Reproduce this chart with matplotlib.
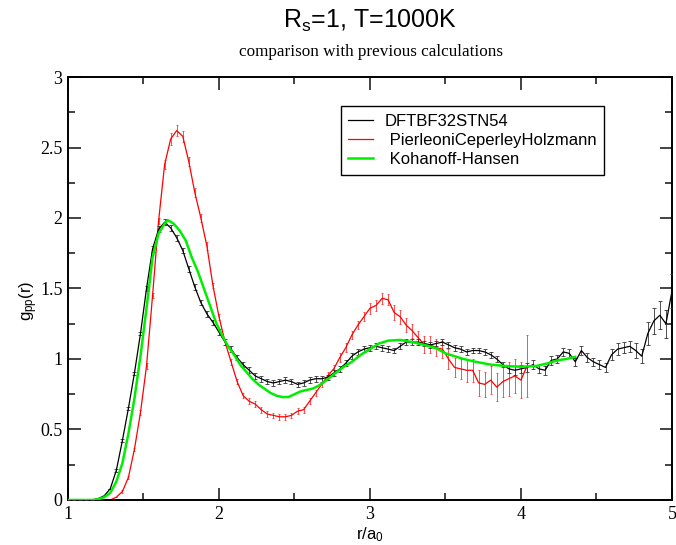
import matplotlib

matplotlib.use("Agg")

import matplotlib.pyplot as plt
from matplotlib.ticker import MultipleLocator


# DFTBF32STN54 (black, with error bars)
dft_r = [1.00, 1.04, 1.08, 1.12, 1.16, 1.20, 1.24, 1.28, 1.32, 1.36, 1.40, 1.44, 1.48, 1.52,
         1.56, 1.60, 1.64, 1.68, 1.72, 1.76, 1.80, 1.84, 1.88, 1.92, 1.96, 2.00, 2.04, 2.08,
         2.12, 2.16, 2.20, 2.24, 2.28, 2.32, 2.36, 2.40, 2.44, 2.48, 2.52, 2.56, 2.60, 2.64,
         2.68, 2.72, 2.76, 2.80, 2.84, 2.88, 2.92, 2.96, 3.00, 3.04, 3.08, 3.12, 3.16, 3.20,
         3.24, 3.28, 3.32, 3.36, 3.40, 3.44, 3.48, 3.52, 3.56, 3.60, 3.64, 3.68, 3.72, 3.76,
         3.80, 3.84, 3.88, 3.92, 3.96, 4.00, 4.04, 4.08, 4.12, 4.16, 4.20, 4.24, 4.28, 4.32,
         4.36, 4.40, 4.44, 4.48, 4.52, 4.56, 4.60, 4.64, 4.68, 4.72, 4.76, 4.80, 4.84, 4.88,
         4.92, 4.96, 5.00]
dft_g = [0.00, 0.00, 0.00, 0.00, 0.00, 0.01, 0.03, 0.08, 0.21, 0.42, 0.65, 0.90, 1.18, 1.50,
         1.78, 1.92, 1.97, 1.93, 1.86, 1.77, 1.64, 1.51, 1.40, 1.32, 1.26, 1.19, 1.12, 1.07,
         1.01, 0.96, 0.92, 0.88, 0.86, 0.84, 0.83, 0.84, 0.85, 0.84, 0.82, 0.83, 0.85, 0.86,
         0.86, 0.87, 0.90, 0.93, 0.97, 1.02, 1.05, 1.07, 1.08, 1.09, 1.08, 1.07, 1.06, 1.09,
         1.12, 1.12, 1.12, 1.11, 1.10, 1.11, 1.12, 1.10, 1.08, 1.07, 1.05, 1.06, 1.06, 1.05,
         1.03, 1.00, 0.96, 0.93, 0.92, 0.93, 0.94, 0.96, 0.93, 0.92, 0.99, 1.00, 1.05, 1.04,
         0.98, 1.06, 1.01, 0.98, 0.96, 0.94, 1.03, 1.07, 1.08, 1.09, 1.06, 1.02, 1.18, 1.27,
         1.31, 1.25, 1.48]
dft_err = [0.00, 0.00, 0.00, 0.00, 0.00, 0.00, 0.00, 0.00, 0.01, 0.01, 0.01, 0.01, 0.01, 0.02,
           0.02, 0.02, 0.02, 0.02, 0.02, 0.02, 0.02, 0.02, 0.02, 0.02, 0.02, 0.02, 0.02, 0.02,
           0.02, 0.02, 0.02, 0.02, 0.02, 0.02, 0.02, 0.02, 0.02, 0.02, 0.02, 0.02, 0.02, 0.02,
           0.02, 0.02, 0.02, 0.02, 0.02, 0.02, 0.02, 0.02, 0.02, 0.02, 0.02, 0.02, 0.02, 0.02,
           0.02, 0.02, 0.02, 0.02, 0.02, 0.02, 0.02, 0.02, 0.02, 0.02, 0.02, 0.02, 0.02, 0.02,
           0.02, 0.02, 0.02, 0.03, 0.03, 0.03, 0.03, 0.03, 0.03, 0.03, 0.03, 0.03, 0.03, 0.03,
           0.03, 0.03, 0.03, 0.03, 0.03, 0.03, 0.04, 0.04, 0.04, 0.04, 0.05, 0.05, 0.08, 0.09,
           0.10, 0.10, 0.12]

# PierleoniCeperleyHolzmann (red, with error bars)
pch_r = [1.00, 1.04, 1.08, 1.12, 1.16, 1.20, 1.24, 1.28, 1.32, 1.36, 1.40, 1.44, 1.48, 1.52,
         1.56, 1.60, 1.64, 1.68, 1.72, 1.76, 1.80, 1.84, 1.88, 1.92, 1.96, 2.00, 2.04, 2.08,
         2.12, 2.16, 2.20, 2.24, 2.28, 2.32, 2.36, 2.40, 2.44, 2.48, 2.52, 2.56, 2.60, 2.64,
         2.68, 2.72, 2.76, 2.80, 2.84, 2.88, 2.92, 2.96, 3.00, 3.04, 3.08, 3.12, 3.16, 3.20,
         3.24, 3.28, 3.32, 3.36, 3.40, 3.44, 3.48, 3.52, 3.56, 3.60, 3.64, 3.68, 3.72, 3.76,
         3.80, 3.84, 3.88, 3.92, 3.96, 4.00, 4.04]
pch_g = [0.00, 0.00, 0.00, 0.00, 0.00, 0.00, 0.00, 0.00, 0.02, 0.06, 0.16, 0.36, 0.62, 0.95,
         1.45, 1.98, 2.38, 2.56, 2.62, 2.58, 2.40, 2.18, 2.00, 1.80, 1.52, 1.30, 1.12, 0.98,
         0.84, 0.74, 0.70, 0.68, 0.64, 0.61, 0.60, 0.59, 0.59, 0.60, 0.63, 0.64, 0.70, 0.76,
         0.82, 0.88, 0.93, 1.01, 1.08, 1.17, 1.24, 1.30, 1.36, 1.38, 1.43, 1.42, 1.33, 1.30,
         1.24, 1.20, 1.15, 1.10, 1.10, 1.08, 1.07, 1.00, 0.94, 0.93, 0.92, 0.92, 0.83, 0.82,
         0.85, 0.80, 0.84, 0.86, 0.88, 0.85, 0.95]
pch_err = [0.00, 0.00, 0.00, 0.00, 0.00, 0.00, 0.00, 0.00, 0.00, 0.01, 0.01, 0.01, 0.02, 0.02,
           0.02, 0.02, 0.03, 0.04, 0.04, 0.04, 0.03, 0.03, 0.03, 0.03, 0.02, 0.02, 0.02, 0.02,
           0.02, 0.02, 0.02, 0.02, 0.02, 0.02, 0.02, 0.02, 0.02, 0.02, 0.02, 0.02, 0.02, 0.02,
           0.02, 0.03, 0.03, 0.03, 0.03, 0.03, 0.03, 0.03, 0.04, 0.04, 0.04, 0.04, 0.05, 0.05,
           0.05, 0.05, 0.05, 0.06, 0.06, 0.06, 0.06, 0.07, 0.07, 0.07, 0.08, 0.08, 0.09, 0.09,
           0.10, 0.10, 0.11, 0.12, 0.12, 0.13, 0.22]

# Kohanoff-Hansen (green, no error bars)
kh_r = [1.00, 1.08, 1.16, 1.20, 1.24, 1.28, 1.32, 1.36, 1.40, 1.44, 1.48, 1.52, 1.56, 1.60,
        1.64, 1.66, 1.70, 1.74, 1.78, 1.82, 1.86, 1.90, 1.94, 1.98, 2.02, 2.06, 2.10, 2.14,
        2.18, 2.22, 2.26, 2.30, 2.34, 2.38, 2.42, 2.46, 2.50, 2.54, 2.58, 2.62, 2.66, 2.70,
        2.76, 2.82, 2.88, 2.94, 3.00, 3.06, 3.12, 3.20, 3.28, 3.36, 3.44, 3.50, 3.56, 3.62,
        3.70, 3.80, 3.90, 4.00, 4.10, 4.18, 4.24, 4.30, 4.36]
kh_g = [0.00, 0.00, 0.00, 0.005, 0.02, 0.05, 0.13, 0.26, 0.47, 0.72, 1.02, 1.36, 1.72, 1.89,
        1.96, 1.985, 1.96, 1.91, 1.84, 1.72, 1.62, 1.50, 1.38, 1.26, 1.17, 1.09, 1.03, 0.96,
        0.91, 0.86, 0.82, 0.79, 0.76, 0.74, 0.73, 0.73, 0.75, 0.77, 0.78, 0.79, 0.81, 0.84,
        0.89, 0.94, 0.98, 1.03, 1.07, 1.11, 1.13, 1.135, 1.12, 1.10, 1.075, 1.04, 1.02, 1.00,
        0.98, 0.96, 0.95, 0.945, 0.95, 0.97, 0.99, 1.00, 1.015]

X_TICK_LABELS = ["1", "2", "3", "4", "5"]
Y_TICK_LABELS = ["0", "0.5", "1", "1.5", "2", "2.5", "3"]

SANS = ["Liberation Sans", "DejaVu Sans"]
SERIF = ["Liberation Serif", "DejaVu Serif"]

# upright sub/superscripts in the same sans face as the labels
plt.rcParams["mathtext.fontset"] = "custom"
plt.rcParams["mathtext.rm"] = "Liberation Sans"
plt.rcParams["mathtext.it"] = "Liberation Sans"
plt.rcParams["mathtext.default"] = "rm"


fig = plt.figure(figsize=(6.76, 5.45), dpi=100)
ax = fig.add_axes([0.1006, 0.0826, 0.8934, 0.7761])

dft_bars = ax.errorbar(dft_r, dft_g, yerr=dft_err, color="black", lw=0.9, elinewidth=0.6,
                       capsize=1.2, capthick=0.6, ecolor="#333333", zorder=3)
pch_bars = ax.errorbar(pch_r, pch_g, yerr=pch_err, color="#ff0000", lw=0.9, elinewidth=0.6,
                       capsize=1.0, capthick=0.6, ecolor="#ff3333", zorder=2)
(kh_line,) = ax.plot(kh_r, kh_g, color="#00ee00", lw=1.8, zorder=4)

ax.set_xlim(1, 5)
ax.set_ylim(0, 3)
ax.set_xticks([1, 2, 3, 4, 5])
ax.set_xticklabels(X_TICK_LABELS)
ax.set_yticks([0, 0.5, 1, 1.5, 2, 2.5, 3])
ax.set_yticklabels(Y_TICK_LABELS)
ax.xaxis.set_minor_locator(MultipleLocator(0.5))
ax.yaxis.set_minor_locator(MultipleLocator(0.25))
ax.tick_params(which="both", direction="in", top=True, right=True, width=1.2, color="#222222")
ax.tick_params(which="major", length=9, pad=4)
ax.tick_params(which="minor", length=5)
for label in ax.get_xticklabels() + ax.get_yticklabels():
    label.set_fontfamily(SERIF)
    label.set_fontsize(13)
for spine in ax.spines.values():
    spine.set_linewidth(1.4)

ax.set_xlabel("r/a$_0$", family=SANS, fontsize=12, labelpad=2)
ax.set_ylabel("g$_{pp}$(r)", family=SANS, fontsize=12)
ax.yaxis.set_label_coords(-0.046, 0.47)

fig.text(0.548, 0.9486, "R$_s$=1, T=1000K", family=SANS, fontsize=18, ha="center",
         va="baseline")
fig.text(0.549, 0.897, "comparison with previous calculations", family=SERIF, fontsize=12.3,
         ha="center", va="baseline")

legend = ax.legend(handles=[dft_bars[0], pch_bars[0], kh_line],
                   labels=["DFTBF32STN54", " PierleoniCeperleyHolzmann", " Kohanoff-Hansen"],
                   loc="upper left", bbox_to_anchor=(0.4515, 0.9314), borderaxespad=0,
                   frameon=True, fancybox=False, edgecolor="black", framealpha=1,
                   handlelength=1.5, handletextpad=0.7, borderpad=0.45, labelspacing=0.26,
                   prop={"family": SANS, "size": 12})
legend.get_frame().set_linewidth(1.0)

fig.savefig("out.png", dpi=100)
plt.close(fig)
